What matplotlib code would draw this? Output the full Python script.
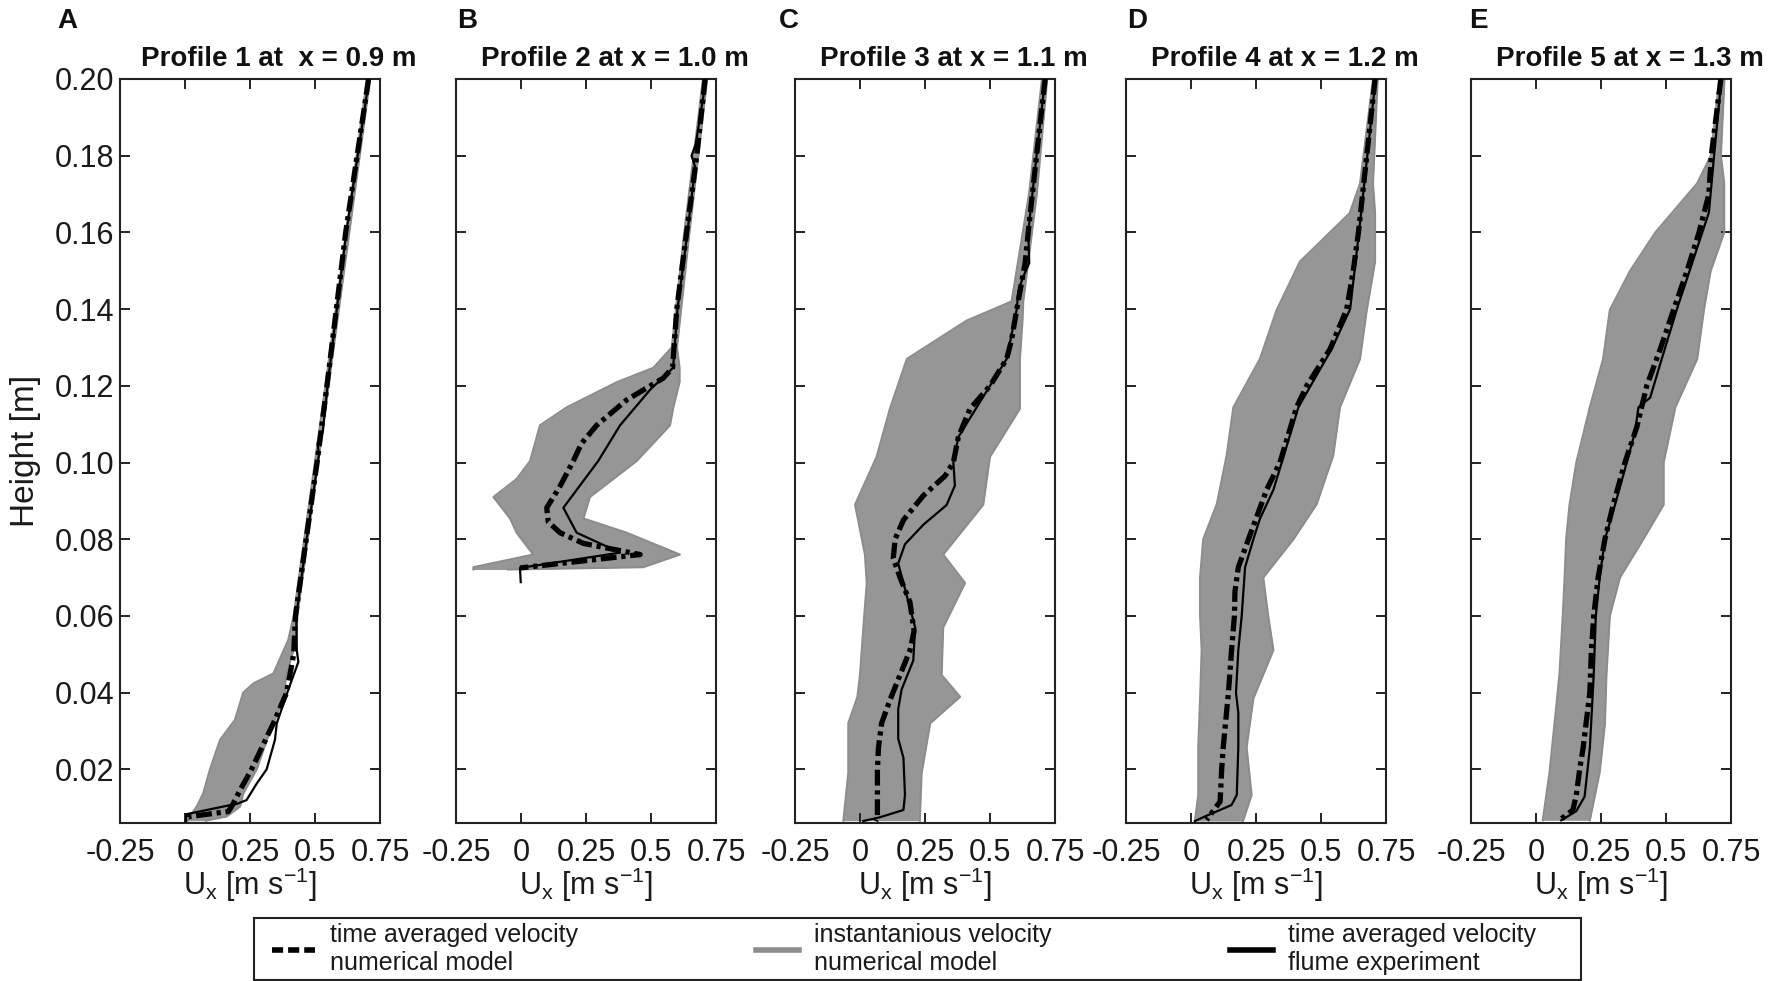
import matplotlib
matplotlib.use("Agg")
import matplotlib.pyplot as plt
from matplotlib.lines import Line2D
from matplotlib.patches import Rectangle
from matplotlib.ticker import FixedLocator, FixedFormatter

plt.rcParams['font.family'] = ['Liberation Sans', 'DejaVu Sans']
plt.rcParams['mathtext.fontset'] = 'custom'
plt.rcParams['mathtext.rm'] = 'Liberation Sans'
plt.rcParams['mathtext.default'] = 'regular'

# ---------------- data ----------------
panel_letters = ['A', 'B', 'C', 'D', 'E']
panel_titles = ['Profile 1 at  x = 0.9 m', 'Profile 2 at x = 1.0 m', 'Profile 3 at x = 1.1 m',
                'Profile 4 at x = 1.2 m', 'Profile 5 at x = 1.3 m']
x_ticks = [-0.25, 0, 0.25, 0.5, 0.75]
x_ticklabels = ['-0.25', '0', '0.25', '0.5', '0.75']
y_ticks = [0.02, 0.04, 0.06, 0.08, 0.10, 0.12, 0.14, 0.16, 0.18, 0.20]
y_ticklabels = ['0.02', '0.04', '0.06', '0.08', '0.10', '0.12', '0.14', '0.16', '0.18', '0.20']
legend_labels = ['time averaged velocity\nnumerical model',
                 'instantanious velocity\nnumerical model',
                 'time averaged velocity\nflume experiment']

# Profile 1
a_mean_y = [0.200, 0.180, 0.160, 0.140, 0.120, 0.100, 0.080, 0.060, 0.050, 0.040, 0.032, 0.020, 0.0146, 0.0111, 0.009, 0.0076, 0.0065]
a_mean_x = [0.706, 0.662, 0.618, 0.582, 0.546, 0.508, 0.466, 0.425, 0.418, 0.391, 0.340, 0.256, 0.212, 0.186, 0.167, 0.010, 0.006]
a_exp_y = [0.200, 0.180, 0.160, 0.140, 0.120, 0.108, 0.105, 0.102, 0.080, 0.060, 0.051, 0.048, 0.0407, 0.032, 0.0277, 0.020, 0.0163, 0.012, 0.0111, 0.0083, 0.0065]
a_exp_x = [0.708, 0.664, 0.620, 0.584, 0.548, 0.530, 0.510, 0.515, 0.468, 0.428, 0.430, 0.436, 0.397, 0.353, 0.346, 0.314, 0.276, 0.237, 0.205, 0.006, 0.004]
a_band_y = [0.200, 0.120, 0.060, 0.0537, 0.045, 0.0424, 0.040, 0.0329, 0.0277, 0.020, 0.0137, 0.0103, 0.0077, 0.0066]
a_band_lo = [0.700, 0.540, 0.418, 0.397, 0.340, 0.263, 0.224, 0.192, 0.135, 0.096, 0.070, 0.045, 0.019, 0.010]
a_band_hi = [0.712, 0.552, 0.432, 0.429, 0.391, 0.385, 0.385, 0.346, 0.315, 0.276, 0.224, 0.212, 0.160, 0.080]

# Profile 2
b_mean_y = [0.200, 0.180, 0.160, 0.140, 0.1247, 0.122, 0.1163, 0.1097, 0.105, 0.1004, 0.0938, 0.0882, 0.0845, 0.0817, 0.0789, 0.076, 0.0725]
b_mean_x = [0.708, 0.676, 0.637, 0.599, 0.583, 0.547, 0.406, 0.291, 0.233, 0.201, 0.150, 0.099, 0.105, 0.150, 0.240, 0.458, -0.004]
b_exp_y = [0.200, 0.183, 0.180, 0.177, 0.160, 0.140, 0.1247, 0.119, 0.1097, 0.1004, 0.0882, 0.0817, 0.0765, 0.0725, 0.0688]
b_exp_x = [0.712, 0.672, 0.656, 0.670, 0.640, 0.602, 0.585, 0.497, 0.381, 0.297, 0.163, 0.214, 0.381, -0.004, -0.001]
b_band_y = [0.200, 0.160, 0.130, 0.1247, 0.121, 0.1144, 0.1097, 0.1004, 0.0957, 0.091, 0.0854, 0.0817, 0.076, 0.0727, 0.0721]
b_band_lo = [0.700, 0.628, 0.580, 0.509, 0.370, 0.176, 0.073, 0.035, -0.017, -0.106, -0.042, -0.017, 0.047, -0.183, -0.183]
b_band_hi = [0.716, 0.648, 0.600, 0.610, 0.610, 0.586, 0.573, 0.445, 0.355, 0.265, 0.240, 0.406, 0.611, 0.470, -0.050]

# Profile 3
c_mean_y = [0.200, 0.180, 0.160, 0.152, 0.140, 0.132, 0.127, 0.120, 0.114, 0.1066, 0.100, 0.0965, 0.0914, 0.085, 0.080, 0.075, 0.070, 0.0636, 0.056, 0.051, 0.0446, 0.038, 0.032, 0.0256, 0.020, 0.0133, 0.0075, 0.0065]
c_mean_x = [0.712, 0.679, 0.647, 0.635, 0.603, 0.583, 0.564, 0.500, 0.423, 0.378, 0.359, 0.327, 0.244, 0.167, 0.135, 0.128, 0.154, 0.192, 0.208, 0.192, 0.154, 0.115, 0.083, 0.071, 0.067, 0.067, 0.067, 0.060]
c_exp_y = [0.200, 0.180, 0.160, 0.152, 0.148, 0.1446, 0.140, 0.127, 0.120, 0.1066, 0.100, 0.094, 0.0889, 0.0838, 0.0787, 0.0737, 0.0686, 0.057, 0.0484, 0.0408, 0.0357, 0.028, 0.023, 0.0133, 0.0094, 0.0075, 0.0065]
c_exp_x = [0.712, 0.679, 0.647, 0.651, 0.625, 0.609, 0.603, 0.564, 0.500, 0.378, 0.359, 0.365, 0.333, 0.244, 0.173, 0.147, 0.167, 0.212, 0.205, 0.160, 0.147, 0.147, 0.167, 0.173, 0.167, 0.077, 0.012]
c_band_y = [0.200, 0.170, 0.142, 0.137, 0.127, 0.114, 0.1015, 0.089, 0.076, 0.0686, 0.057, 0.0446, 0.0389, 0.032, 0.019, 0.0066]
c_band_lo = [0.700, 0.650, 0.583, 0.410, 0.180, 0.115, 0.064, -0.019, 0.019, 0.026, 0.013, 0.000, -0.010, -0.045, -0.045, -0.064]
c_band_hi = [0.720, 0.680, 0.628, 0.625, 0.615, 0.615, 0.500, 0.474, 0.320, 0.404, 0.320, 0.314, 0.385, 0.270, 0.237, 0.230]

# Profile 4
d_mean_y = [0.200, 0.180, 0.160, 0.150, 0.140, 0.1296, 0.120, 0.1144, 0.100, 0.0929, 0.080, 0.0727, 0.0663, 0.060, 0.0511, 0.040, 0.0258, 0.020, 0.0116, 0.0068]
d_mean_x = [0.708, 0.676, 0.644, 0.624, 0.599, 0.535, 0.445, 0.406, 0.342, 0.291, 0.221, 0.182, 0.169, 0.167, 0.156, 0.144, 0.124, 0.118, 0.112, 0.060]
d_exp_y = [0.200, 0.180, 0.160, 0.140, 0.1296, 0.1144, 0.100, 0.0929, 0.0853, 0.080, 0.0727, 0.060, 0.0511, 0.040, 0.0347, 0.0258, 0.0133, 0.0107, 0.0075, 0.0065]
d_exp_x = [0.710, 0.678, 0.646, 0.612, 0.541, 0.413, 0.349, 0.317, 0.265, 0.240, 0.208, 0.195, 0.182, 0.173, 0.182, 0.182, 0.176, 0.156, 0.047, 0.015]
d_band_y = [0.200, 0.1727, 0.165, 0.1524, 0.1397, 0.127, 0.1144, 0.1018, 0.0891, 0.080, 0.070, 0.060, 0.0511, 0.0385, 0.0258, 0.0133, 0.0065]
d_band_lo = [0.700, 0.650, 0.610, 0.419, 0.329, 0.265, 0.163, 0.137, 0.099, 0.047, 0.035, 0.035, 0.041, 0.035, 0.028, 0.028, 0.015]
d_band_hi = [0.718, 0.700, 0.708, 0.708, 0.676, 0.650, 0.573, 0.547, 0.483, 0.394, 0.278, 0.297, 0.317, 0.240, 0.214, 0.233, 0.200]

# Profile 5
e_mean_y = [0.200, 0.180, 0.170, 0.160, 0.150, 0.140, 0.1296, 0.120, 0.1093, 0.100, 0.089, 0.080, 0.070, 0.060, 0.0509, 0.040, 0.0255, 0.020, 0.0133, 0.0094, 0.0067]
e_mean_x = [0.711, 0.674, 0.665, 0.627, 0.581, 0.530, 0.478, 0.426, 0.388, 0.342, 0.297, 0.265, 0.239, 0.222, 0.213, 0.207, 0.181, 0.168, 0.155, 0.142, 0.090]
e_exp_y = [0.200, 0.180, 0.1652, 0.1402, 0.1271, 0.1169, 0.1144, 0.108, 0.100, 0.089, 0.080, 0.070, 0.060, 0.0446, 0.0382, 0.0255, 0.0129, 0.0091, 0.0067]
e_exp_x = [0.713, 0.685, 0.665, 0.543, 0.484, 0.439, 0.394, 0.381, 0.349, 0.304, 0.265, 0.245, 0.230, 0.222, 0.217, 0.207, 0.187, 0.155, 0.097]
e_band_y = [0.200, 0.180, 0.1728, 0.160, 0.150, 0.1398, 0.127, 0.1144, 0.100, 0.089, 0.080, 0.070, 0.060, 0.0446, 0.0318, 0.0192, 0.0067]
e_band_lo = [0.705, 0.672, 0.620, 0.459, 0.362, 0.284, 0.258, 0.207, 0.155, 0.129, 0.116, 0.110, 0.103, 0.090, 0.071, 0.052, 0.026]
e_band_hi = [0.725, 0.711, 0.724, 0.724, 0.672, 0.646, 0.620, 0.536, 0.491, 0.491, 0.413, 0.323, 0.284, 0.271, 0.265, 0.245, 0.207]

panels = [
    (a_mean_x, a_mean_y, a_exp_x, a_exp_y, a_band_y, a_band_lo, a_band_hi),
    (b_mean_x, b_mean_y, b_exp_x, b_exp_y, b_band_y, b_band_lo, b_band_hi),
    (c_mean_x, c_mean_y, c_exp_x, c_exp_y, c_band_y, c_band_lo, c_band_hi),
    (d_mean_x, d_mean_y, d_exp_x, d_exp_y, d_band_y, d_band_lo, d_band_hi),
    (e_mean_x, e_mean_y, e_exp_x, e_exp_y, e_band_y, e_band_lo, e_band_hi),
]

# ---------------- layout ----------------
W, H = 1772, 981
fig = plt.figure(figsize=(W / 100, H / 100), dpi=100)
ax_lefts_px = [120, 456, 795, 1126, 1471]
ax_w_px = 260
ax_top_px, ax_bot_px = 79, 823
letter_x_px = [57, 457, 779, 1127, 1469]
gray = '#8c8c8c'
fill_gray = '#969696'
spine_c = '#222222'
text_c = '#1a1a1a'
mean_ls = (0, (3.0, 0.9, 0.8, 0.9))

for i, (mx, my, ex, ey, by, blo, bhi) in enumerate(panels):
    ax = fig.add_axes([ax_lefts_px[i] / W, 1 - ax_bot_px / H, ax_w_px / W, (ax_bot_px - ax_top_px) / H])
    ax.fill_betweenx(by, blo, bhi, color=fill_gray, lw=0, zorder=1)
    ax.plot(blo, by, color=gray, lw=1.5, zorder=2)
    ax.plot(bhi, by, color=gray, lw=1.5, zorder=2)
    ax.plot(ex, ey, color='black', lw=1.6, zorder=3)
    ax.plot(mx, my, color='black', lw=3.8, ls=mean_ls, zorder=4)
    ax.set_xlim(-0.25, 0.75)
    ax.set_ylim(0.006, 0.2)
    ax.xaxis.set_major_locator(FixedLocator(x_ticks))
    ax.xaxis.set_major_formatter(FixedFormatter(x_ticklabels))
    ax.yaxis.set_major_locator(FixedLocator(y_ticks))
    ax.yaxis.set_major_formatter(FixedFormatter(y_ticklabels))
    ax.tick_params(direction='in', length=7, width=1.4, top=True, right=True,
                   labelsize=22, colors=spine_c, labelcolor=text_c, pad=4)
    ax.tick_params(axis='x', pad=11)
    if i > 0:
        ax.tick_params(labelleft=False)
    for s in ax.spines.values():
        s.set_linewidth(1.5)
        s.set_color(spine_c)
    ax.set_xlabel(r'U$_{x}$ [m s$^{-1}$]', fontsize=22, labelpad=-2, color=text_c)
    if i == 0:
        ax.set_ylabel('Height [m]', fontsize=24, color=text_c)
        ax.yaxis.set_label_coords(-0.305, 0.5)
    ax.text(0.61, 1.0175, panel_titles[i], transform=ax.transAxes, ha='center', va='baseline',
            fontsize=20, fontweight='bold', color='#111111')
    fig.text(letter_x_px[i] / W, 1 - 28 / H, panel_letters[i], ha='left', va='baseline',
             fontsize=20, fontweight='bold', color='#111111')

# legend frame and entries
fig.patches.append(Rectangle((254 / W, 1 - 980 / H), 1327 / W, 62 / H, transform=fig.transFigure,
                             fill=True, facecolor='white', edgecolor=spine_c, lw=1.5, zorder=5))
handles = [Line2D([], [], color='black', lw=4, ls=(0, (2.0, 0.9))),
           Line2D([], [], color=gray, lw=4),
           Line2D([], [], color='black', lw=4)]
leg = fig.legend(handles, legend_labels, loc='center left',
                 bbox_to_anchor=(272 / W, 1 - 949 / H), ncol=3,
                 fontsize=18, frameon=False, borderpad=0, borderaxespad=0,
                 handlelength=1.7, handletextpad=0.6, columnspacing=7.15)
leg.set_zorder(6)
for t in leg.get_texts():
    t.set_color(text_c)

fig.savefig('out.png', dpi=100)
